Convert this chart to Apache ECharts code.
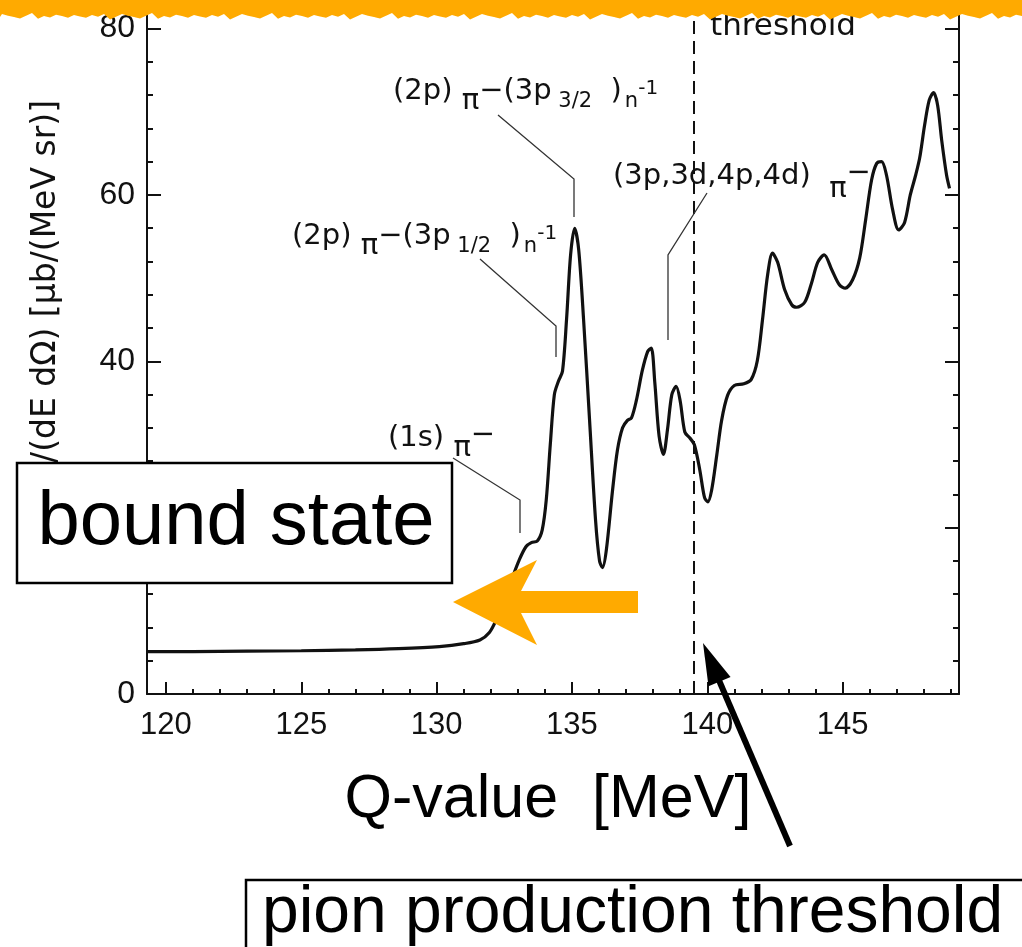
<!DOCTYPE html>
<html>
<head>
<meta charset="utf-8">
<script src="https://cdn.jsdelivr.net/npm/echarts@6/dist/echarts.min.js"></script>
<style>
  html, body { margin: 0; padding: 0; background: #ffffff; }
  #chart { width: 1022px; height: 947px; }
</style>
</head>
<body>
<div id="chart"></div>
<script>
// Excitation spectrum: Q-value [MeV] vs double-differential cross section [μb/(MeV sr)]
const qValues = [
  119.3, 121.0, 123.0, 125.0, 127.0, 128.6, 130.1, 131.0, 131.6, 131.95,
  132.2, 132.5, 132.8, 133.05, 133.3, 133.5, 133.72, 133.9, 134.05, 134.2,
  134.35, 134.5, 134.65, 134.8, 134.95, 135.1, 135.25, 135.43, 135.65, 135.87,
  136.02, 136.13, 136.27, 136.5, 136.68, 136.87, 137.05, 137.2, 137.38, 137.6,
  137.8, 137.93, 138.06, 138.22, 138.38, 138.53, 138.69, 138.85, 139.0, 139.17,
  139.35, 139.52, 139.72, 139.9, 140.02, 140.16, 140.35, 140.53, 140.75, 141.0,
  141.35, 141.62, 141.85, 142.04, 142.23, 142.41, 142.6, 142.86, 143.12, 143.3,
  143.6, 143.85, 144.08, 144.32, 144.6, 144.88, 145.1, 145.37, 145.63, 145.85,
  146.07, 146.26, 146.44, 146.62, 146.85, 147.07, 147.29, 147.5, 147.7, 147.85,
  148.03, 148.2, 148.36, 148.51, 148.66, 148.84, 148.95
];
const crossSection = [
  5.1, 5.1, 5.15, 5.2, 5.3, 5.45, 5.7, 6.05, 6.5, 7.4,
  8.9, 11.3, 14.0, 16.1, 17.7, 18.2, 18.4, 19.7, 23.3, 30.0,
  36.0, 37.6, 38.8, 45.0, 52.8, 56.0, 53.4, 45.0, 33.0, 21.0,
  16.0, 15.2, 17.3, 24.5, 29.3, 32.0, 32.9, 33.2, 35.3, 38.9,
  41.2, 41.6, 37.5, 31.0, 28.8, 31.8, 36.0, 37.0, 35.2, 31.5,
  30.8, 30.0, 27.0, 23.6, 23.1, 24.5, 28.7, 32.9, 35.9, 37.1,
  37.3, 37.8, 40.1, 45.0, 50.4, 53.0, 51.9, 48.6, 46.8, 46.5,
  47.1, 49.4, 51.9, 52.8, 51.0, 49.2, 48.8, 49.8, 52.4, 57.0,
  61.8, 63.8, 64.0, 62.4, 58.2, 55.8, 56.7, 60.0, 62.4, 64.5,
  68.4, 71.4, 72.3, 70.8, 66.6, 62.4, 60.8
];
const xMajorTicks = [120, 125, 130, 135, 140, 145];
const xMinorTicks = [121, 122, 123, 124, 126, 127, 128, 129, 131, 132, 133, 134,
                     136, 137, 138, 139, 141, 142, 143, 144, 146, 147, 148, 149];
const yMajorTicks = [0, 20, 40, 60, 80];
const yMinorTicks = [4, 8, 12, 16, 24, 28, 32, 36, 44, 48, 52, 56, 64, 68, 72, 76];
const thresholdQ = 139.5;   // pion production threshold

const Q_MIN = 119.3, Q_MAX = 149.3, Y_MIN = 0, Y_MAX = 82;

const FIG = "'DejaVu Sans', sans-serif";
const SLIDE = "'Liberation Sans', Arial, Helvetica, sans-serif";
const INK = '#111111';
const ORANGE = '#FFAA00';

const spectrum = qValues.map((q, i) => [q, crossSection[i]]);

function baseX(extra) {
  return Object.assign({
    type: 'value', min: Q_MIN, max: Q_MAX, position: 'bottom',
    splitLine: { show: false },
    axisLine: { show: false },
    axisLabel: { show: false },
    axisTick: { show: false }
  }, extra);
}
function baseY(extra) {
  return Object.assign({
    type: 'value', min: Y_MIN, max: Y_MAX,
    splitLine: { show: false },
    axisLine: { show: false },
    axisLabel: { show: false },
    axisTick: { show: false }
  }, extra);
}
const tickStyle = { color: INK, width: 2 };

// annotation text styles (typeset figure labels)
function annRich(piShift, dashShift) {
  return {
    m:   { fontFamily: FIG, fontSize: 29, fill: INK },
    pi:  { fontFamily: FIG, fontSize: 29, fill: INK, padding: [piShift, 0, 0, 0] },
    dash:{ fontFamily: FIG, fontSize: 29, fill: INK, padding: [0, 0, dashShift, 0] },
    lo:  { fontFamily: FIG, fontSize: 21, fill: INK, padding: [22, 0, 0, 0] },
    n:   { fontFamily: FIG, fontSize: 21, fill: INK, padding: [22, 0, 0, 3] },
    sup: { fontFamily: FIG, fontSize: 20, fill: INK, padding: [0, 0, 4, 0] }
  };
}
function label(x, y, text, piShift, dashShift) {
  return {
    type: 'text', x: x, y: y, z: 10,
    style: {
      text: text, rich: annRich(piShift, dashShift),
      fontFamily: FIG, fontSize: 29, fill: INK,
      align: 'left', textAlign: 'left', verticalAlign: 'middle', textVerticalAlign: 'middle'
    }
  };
}
function leader(points) {
  return {
    type: 'polyline', z: 10,
    shape: { points: points },
    style: { stroke: '#333333', lineWidth: 1.3, fill: null }
  };
}

// rough chalk band along the top edge
const bandPts = [[0, 0], [1022, 0]];
for (let x = 1022, i = 0; x >= 0; x -= 6, i++) {
  bandPts.push([x, 16 + ((i * 7) % 5) * 0.9 - ((i * 3) % 4) * 1.0]);
}
bandPts.push([0, 17]);

// black arrow pointing at the threshold
const tail = [790, 846], tip = [703, 643];
const dx = tail[0] - tip[0], dy = tail[1] - tip[1], len = Math.hypot(dx, dy);
const ux = dx / len, uy = dy / len, px = uy, py = -ux;
const headLen = 42, headHalf = 12;
const bx = tip[0] + ux * headLen, by = tip[1] + uy * headLen;

const option = {
  animation: false,
  backgroundColor: '#ffffff',
  grid: { left: 147, right: 63, top: 12, bottom: 253, containLabel: false },
  xAxis: [
    baseX({
      axisLine: { show: true, lineStyle: { color: INK, width: 2 } },
      axisTick: { show: true, inside: true, length: 12, customValues: xMajorTicks, lineStyle: tickStyle },
      axisLabel: { show: true, customValues: xMajorTicks, fontFamily: SLIDE, fontSize: 31, color: INK, margin: 16 }
    }),
    baseX({
      axisTick: { show: true, inside: true, length: 5, customValues: xMinorTicks, lineStyle: tickStyle }
    })
  ],
  yAxis: [
    baseY({
      position: 'left',
      axisLine: { show: true, lineStyle: { color: INK, width: 2 } },
      axisTick: { show: true, inside: true, length: 14, customValues: yMajorTicks, lineStyle: tickStyle },
      axisLabel: { show: true, customValues: yMajorTicks, fontFamily: SLIDE, fontSize: 32, color: INK,
                   margin: 12, padding: [10, 0, 0, 0] }
    }),
    baseY({
      position: 'left',
      axisTick: { show: true, inside: true, length: 6, customValues: yMinorTicks, lineStyle: tickStyle }
    }),
    baseY({
      position: 'right',
      axisLine: { show: true, lineStyle: { color: INK, width: 2 } },
      axisTick: { show: true, inside: true, length: 14, customValues: yMajorTicks, lineStyle: tickStyle }
    }),
    baseY({
      position: 'right',
      axisTick: { show: true, inside: true, length: 6, customValues: yMinorTicks, lineStyle: tickStyle }
    })
  ],
  series: [{
    type: 'line',
    xAxisIndex: 0, yAxisIndex: 0,
    data: spectrum,
    smooth: 0.3,
    showSymbol: false,
    lineStyle: { color: INK, width: 3.2 },
    z: 3,
    markLine: {
      silent: true,
      symbol: ['none', 'none'],
      label: { show: false },
      lineStyle: { type: [13, 7], width: 2, color: INK },
      data: [{ xAxis: thresholdQ }]
    }
  }],
  graphic: { elements: [
    // y-axis title of the figure
    {
      type: 'text', x: 46, y: 100, rotation: Math.PI / 2, z: 5,
      style: {
        text: 'd²σ/(dE dΩ) [μb/(MeV sr)]', fontFamily: FIG, fontSize: 33, fill: INK,
        align: 'right', textAlign: 'right', verticalAlign: 'middle', textVerticalAlign: 'middle'
      }
    },
    {
      type: 'text', x: 710, y: 27, z: 5,
      style: { text: 'threshold', fontFamily: FIG, fontSize: 31, fill: INK,
               align: 'left', textAlign: 'left', verticalAlign: 'middle', textVerticalAlign: 'middle' }
    },
    // peak annotations
    label(393, 91, '{m|(2p) }{pi|π}{m|−(3p}{lo| 3/2}{m|  )}{n|n}{sup|-1}', 20, 0),
    leader([[498, 115], [574, 179], [574, 217]]),
    label(292, 236, '{m|(2p) }{pi|π}{m|−(3p}{lo| 1/2}{m|  )}{n|n}{sup|-1}', 20, 0),
    leader([[480, 259], [556, 326], [556, 357]]),
    label(613, 176, '{m|(3p,3d,4p,4d)  }{pi|π}{dash|−}', 26, 6),
    leader([[707, 193], [668, 255], [668, 340]]),
    label(388, 438, '{m|(1s) }{pi|π}{dash|−}', 20, 6),
    leader([[453, 458], [520, 500], [520, 533]]),

    // slide overlays
    {
      type: 'rect', z: 20,
      shape: { x: 17, y: 463, width: 435, height: 120 },
      style: { fill: '#ffffff', stroke: '#000000', lineWidth: 2.5 }
    },
    {
      type: 'text', x: 236, y: 523, z: 21,
      style: { text: 'bound state', fontFamily: SLIDE, fontSize: 76, fill: '#000000',
               align: 'center', textAlign: 'center', verticalAlign: 'middle', textVerticalAlign: 'middle' }
    },
    {
      type: 'polygon', z: 22,
      shape: { points: [[453, 602], [537, 560], [521, 591], [638, 591], [638, 613], [521, 613], [537, 645]] },
      style: { fill: ORANGE }
    },
    {
      type: 'line', z: 22,
      shape: { x1: tail[0], y1: tail[1], x2: bx - ux * 2, y2: by - uy * 2 },
      style: { stroke: '#000000', lineWidth: 6 }
    },
    {
      type: 'polygon', z: 22,
      shape: { points: [tip, [bx + px * headHalf, by + py * headHalf], [bx - px * headHalf, by - py * headHalf]] },
      style: { fill: '#000000' }
    },
    {
      type: 'text', x: 548, y: 800, z: 21,
      style: { text: 'Q-value  [MeV]', fontFamily: SLIDE, fontSize: 61, fill: '#000000',
               align: 'center', textAlign: 'center', verticalAlign: 'middle', textVerticalAlign: 'middle' }
    },
    {
      type: 'rect', z: 20,
      shape: { x: 246, y: 880, width: 800, height: 100 },
      style: { fill: '#ffffff', stroke: '#000000', lineWidth: 2.5 }
    },
    {
      type: 'text', x: 262, y: 914, z: 21,
      style: { text: 'pion production threshold', fontFamily: SLIDE, fontSize: 66, fill: '#000000',
               align: 'left', textAlign: 'left', verticalAlign: 'middle', textVerticalAlign: 'middle' }
    },
    {
      type: 'polygon', z: 30,
      shape: { points: bandPts },
      style: { fill: ORANGE }
    }
  ] }
};

const chart = echarts.init(document.getElementById('chart'), null, { renderer: 'canvas' });
chart.setOption(option);
</script>
</body>
</html>
